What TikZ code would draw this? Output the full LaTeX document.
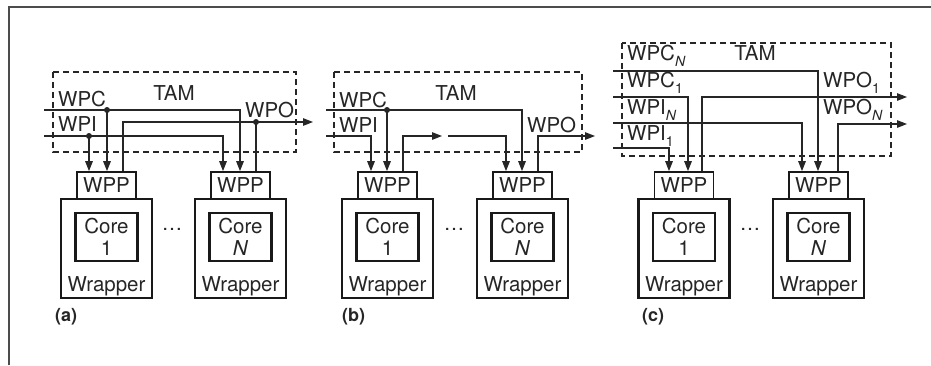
\documentclass[tikz,border=0pt]{standalone}
\usepackage{fontspec}
\setmainfont{TeX Gyre Heros}
\usetikzlibrary{arrows.meta}
\newcommand\mysub[1]{\raisebox{-6pt}{\fontsize{14}{14}\selectfont #1}}
\newcommand\mkstack[3]{%
  \node[wrapbox] (#1w) at (#2,248.5) {};
  \node[corebox] (#1c) at (#2,237) {Core\\[1pt]#3};
  \node[anchor=base, inner sep=0pt] (#1t) at (#2,291) {Wrapper};
  \node[wppbox] (#1p) at (#2,185.5) {WPP};
}
\begin{document}
\begin{tikzpicture}[x=1pt,y=-1pt,
  every node/.style={font=\fontsize{20.5}{21}\selectfont, text=black!85},
  wppbox/.style={draw=black!90, fill=white, line width=1.7pt, minimum width=59pt, minimum height=27pt, inner sep=0pt},
  wrapbox/.style={draw=black!90, line width=2.2pt, minimum width=91pt, minimum height=99pt, inner sep=0pt},
  corebox/.style={draw=black!90, line width=2.2pt, minimum width=62pt, minimum height=48pt, inner sep=0pt, align=center},
  tam/.style={draw=black!85, dash pattern=on 6pt off 4pt, line width=1.6pt},
  wire/.style={draw=black!85, line width=1.3pt},
  arr/.style={wire, -{Triangle[length=10pt,width=7.5pt]}},
  lab/.style={anchor=base west, inner sep=0pt},
  jdot/.style={circle, fill=black!85, inner sep=0pt, minimum size=6pt},
  panel/.style={anchor=base west, inner sep=0pt, font=\fontsize{18}{18}\selectfont\bfseries},
  ]
\useasboundingbox (0,0) rectangle (931,365);
% outer frame
\draw[black!70, line width=1.3pt] (9,365) -- (9,7) -- (931,7);

% ---------------- (a)
\draw[tam] (53,72) rectangle (296,152);
\node[anchor=base, inner sep=0pt] (aTAM) at (174,100) {TAM};
\node[lab] (aWPC) at (58,106) {WPC};
\node[lab] (aWPI) at (58,131) {WPI};
\node[lab] (aWPO) at (245,117) {WPO};
\mkstack{a1}{106.5}{1}
\mkstack{aN}{240.5}{\textit{N}}
\node (adots) at (172,229) {\dots};
\coordinate (aCin) at (44,110);
\coordinate (aIin) at (44,136);
\coordinate (aOout) at (313,122);
\node[jdot] (aCd) at (107,110) {};
\node[jdot] (aId) at (89,136) {};
\node[jdot] (aOd) at (256,122) {};
\draw[arr] (aCin) -| (240,0 |- aNp.north);
\draw[arr] (aIin) -| (223,0 |- aNp.north);
\draw[arr] (aCd.center) -- (107,0 |- a1p.north);
\draw[arr] (aId.center) -- (89,0 |- a1p.north);
\draw[arr] (123,0 |- a1p.north) |- (aOout);
\draw[wire] (aOd.center) -- (256,0 |- aNp.north);
\node[panel] (alab) at (55,321) {(a)};

% ---------------- (b)
\draw[tam] (334,72) rectangle (582,152);
\node[anchor=base, inner sep=0pt] (bTAM) at (456,100) {TAM};
\node[lab] (bWPC) at (339,107) {WPC};
\node[lab] (bWPI) at (339,132) {WPI};
\node[lab] (bWPO) at (527,132) {WPO};
\mkstack{b1}{387.5}{1}
\mkstack{bN}{522.5}{\textit{N}}
\node (bdots) at (454,229) {\dots};
\coordinate (bCin) at (326,110);
\coordinate (bIin) at (326,136);
\coordinate (bMidA) at (442,136);
\coordinate (bMidB) at (448,136);
\coordinate (bOout) at (595,136);
\node[jdot] (bCd) at (387,110) {};
\draw[arr] (bCin) -| (522,0 |- bNp.north);
\draw[arr] (bIin) -| (371,0 |- b1p.north);
\draw[arr] (bCd.center) -- (387,0 |- b1p.north);
\draw[arr] (403,0 |- b1p.north) |- (bMidA);
\draw[arr] (bMidB) -| (506,0 |- bNp.north);
\draw[arr] (538,0 |- bNp.north) |- (bOout);
\node[panel] (blab) at (342,321) {(b)};

% ---------------- (c)
\draw[tam] (622,43) rectangle (891,156);
\node[anchor=base, inner sep=0pt] (cTAM) at (755,60) {TAM};
\node[lab] (cWPCN) at (627,60) {WPC\mysub{\textit{N}}};
\node[lab] (cWPC1) at (627,87) {WPC\mysub{1}};
\node[lab] (cWPIN) at (627,114) {WPI\mysub{\textit{N}}};
\node[lab] (cWPI1) at (627,140) {WPI\mysub{1}};
\node[lab] (cWPO1) at (823,87) {WPO\mysub{1}};
\node[lab] (cWPON) at (823,114) {WPO\mysub{\textit{N}}};
\mkstack{c1}{684}{1}
\mkstack{cN}{818.5}{\textit{N}}
\node (cdots) at (750,229) {\dots};
\coordinate (cCNin) at (613,71);
\coordinate (cC1in) at (613,97);
\coordinate (cINin) at (613,123);
\coordinate (cI1in) at (613,148);
\coordinate (cO1out) at (907,97);
\coordinate (cONout) at (907,124);
\draw[arr] (cCNin) -| (818,0 |- cNp.north);
\draw[arr] (cC1in) -| (688,0 |- c1p.north);
\draw[arr] (cINin) -| (802,0 |- cNp.north);
\draw[arr] (cI1in) -| (669,0 |- c1p.north);
\draw[arr] (702,0 |- c1p.north) |- (cO1out);
\draw[arr] (838,0 |- cNp.north) |- (cONout);
\node[panel] (clab) at (642,321) {(c)};
\end{tikzpicture}
\end{document}
